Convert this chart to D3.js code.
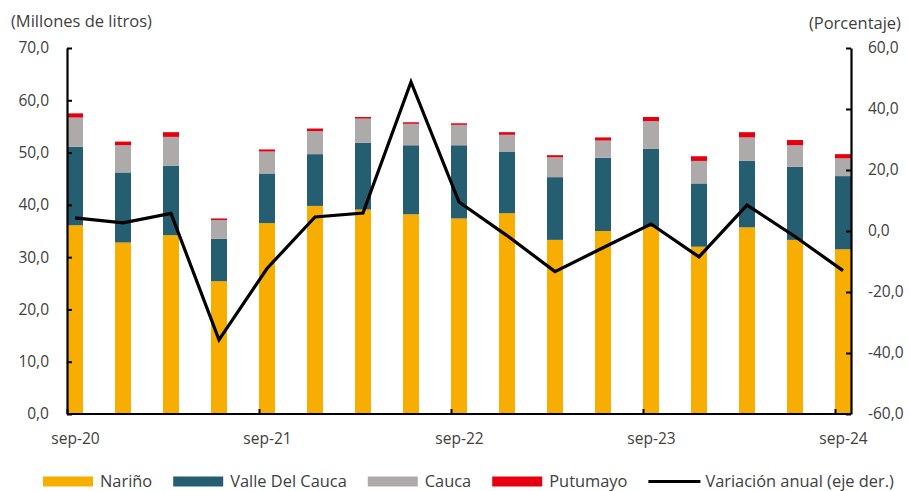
<!DOCTYPE html>
<html>
<head>
<meta charset="utf-8">
<script src="https://cdn.jsdelivr.net/npm/d3@7"></script>
<style>
  html, body { margin: 0; padding: 0; background: #fff; }
  svg { display: block; font-family: "Open Sans", sans-serif; }
</style>
</head>
<body>
<svg id="chart" width="909" height="491"></svg>
<script>
// ---- data ----
const periods = ["sep-20","dic-20","mar-21","jun-21","sep-21","dic-21","mar-22","jun-22","sep-22","dic-22","mar-23","jun-23","sep-23","dic-23","mar-24","jun-24","sep-24"];
const xTickLabels = ["sep-20","sep-21","sep-22","sep-23","sep-24"];
const narino   = [36.1,32.8,34.2,25.4,36.5,39.8,39.1,38.2,37.4,38.4,33.3,35.0,35.8,32.0,35.7,33.3,31.5];
const valle    = [15.0,13.4,13.3, 8.1, 9.5, 9.9,12.8,13.2,14.0,11.8,12.0,14.0,14.9,12.1,12.7,14.0,14.0];
const cauca    = [ 5.6, 5.2, 5.5, 3.6, 4.2, 4.4, 4.6, 4.1, 3.9, 3.2, 3.8, 3.3, 5.3, 4.3, 4.5, 4.1, 3.4];
const putumayo = [ 0.8, 0.7, 0.9, 0.3, 0.4, 0.5, 0.3, 0.3, 0.3, 0.5, 0.4, 0.6, 0.8, 0.9, 1.0, 1.0, 0.8];
const variacion = [4.3,2.7,5.8,-35.7,-12.3,4.6,5.9,48.9,9.5,-1.5,-13.3,-5.5,2.3,-8.5,8.5,-1.8,-13.0];
const leftTicks  = [0,10,20,30,40,50,60,70];
const rightTicks = [-60,-40,-20,0,20,40,60];
const seriesNames = ["Nariño","Valle Del Cauca","Cauca","Putumayo"];
const lineName = "Variación anual (eje der.)";
const leftTitle = "(Millones de litros)";
const rightTitle = "(Porcentaje)";

// ---- layout ----
const colors = ["#F8AE00","#245E70","#AEAAA9","#E6000F"];
const textColor = "#404040";
const L = 67, R = 851, T = 48, B = 414;
const barW = 16;

const svg = d3.select("#chart");
const locale = d3.formatLocale({decimal: ",", thousands: ".", grouping: [3], currency: ["$",""], minus: "-"});
const fmt = locale.format(".1f");

const x = d3.scaleLinear().domain([0, periods.length - 1]).range([L, R - barW]);
const yL = d3.scaleLinear().domain([0, 70]).range([B, T]);
const yR = d3.scaleLinear().domain([-60, 60]).range([B, T]);

// stacked data
const rows = periods.map((p, i) => ({i, "Nariño": narino[i], "Valle Del Cauca": valle[i], "Cauca": cauca[i], "Putumayo": putumayo[i]}));
const stack = d3.stack().keys(seriesNames)(rows);

svg.append("g").selectAll("g").data(stack).join("g")
  .attr("fill", (d, k) => colors[k])
  .selectAll("rect").data(d => d).join("rect")
  .attr("x", d => x(d.data.i))
  .attr("width", barW)
  .attr("y", d => yL(d[1]))
  .attr("height", d => yL(d[0]) - yL(d[1]));

// axes
const axisStyle = g => {
  g.selectAll("path.domain").attr("stroke", "#000").attr("stroke-width", 2.2);
  g.selectAll(".tick line").attr("stroke", "#000").attr("stroke-width", 2);
  g.selectAll("text").attr("fill", textColor).style("font-size", "15.5px").style("font-family", "'Open Sans', sans-serif");
};

const gl = svg.append("g").attr("transform", `translate(${L},0)`)
  .call(d3.axisLeft(yL).tickValues(leftTicks).tickFormat(fmt).tickSizeInner(-5).tickSizeOuter(0))
  .call(axisStyle);
gl.selectAll("text").attr("x", -18);

const gr = svg.append("g").attr("transform", `translate(${R},0)`)
  .call(d3.axisRight(yR).tickValues(rightTicks).tickFormat(fmt).tickSizeInner(-5).tickSizeOuter(0))
  .call(axisStyle);
gr.selectAll("text").attr("x", 17);

const tickIdx = xTickLabels.map(l => periods.indexOf(l));
const gx = svg.append("g").attr("transform", `translate(0,${B})`)
  .call(d3.axisBottom(x).tickValues(tickIdx).tickFormat(i => periods[i]).tickSizeInner(-5).tickSizeOuter(0))
  .call(axisStyle);
gx.select("path.domain").attr("d", `M${L},0H${R}`);
gx.selectAll("text").attr("dx", barW / 2).attr("y", 19);

// line
const line = d3.line().x((d, i) => x(i) + barW / 2).y(d => yR(d));
svg.append("path").datum(variacion)
  .attr("d", line).attr("fill", "none").attr("stroke", "#000")
  .attr("stroke-width", 3.2).attr("stroke-linejoin", "miter");

// titles
svg.append("text").attr("x", 11).attr("y", 27).attr("fill", textColor)
  .style("font-size", "16.5px").text(leftTitle);
svg.append("text").attr("x", 901).attr("y", 29).attr("text-anchor", "end").attr("fill", textColor)
  .style("font-size", "16.5px").text(rightTitle);

// legend
const legItems = seriesNames.map((n, k) => ({name: n, color: colors[k], type: "rect"}))
  .concat([{name: lineName, color: "#000", type: "line"}]);
const lg = svg.append("g");
let cx = 43;
const ly = 481.5;
legItems.forEach(it => {
  if (it.type === "rect") {
    lg.append("rect").attr("x", cx).attr("y", ly - 5).attr("width", 50).attr("height", 10).attr("fill", it.color);
  } else {
    lg.append("line").attr("x1", cx).attr("x2", cx + 52).attr("y1", ly).attr("y2", ly)
      .attr("stroke", it.color).attr("stroke-width", 3.2);
  }
  const t = lg.append("text").attr("x", cx + 57).attr("y", ly + 5.5).attr("fill", textColor)
    .style("font-size", "16.4px").text(it.name);
  cx += 57 + t.node().getComputedTextLength() + 21;
});
</script>
</body>
</html>
